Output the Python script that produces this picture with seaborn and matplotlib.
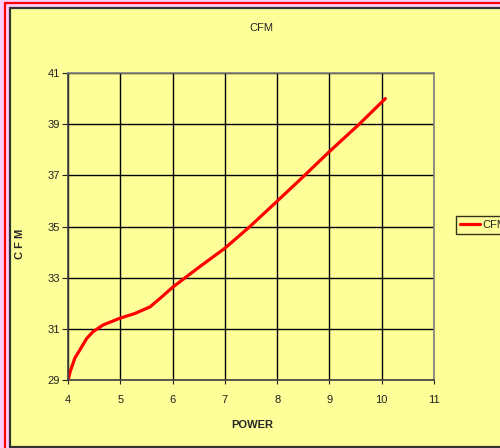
import matplotlib
matplotlib.use('Agg')
import matplotlib.pyplot as plt
import seaborn as sns
from matplotlib.patches import Rectangle

# Data
power = [4.00, 4.05, 4.13, 4.36, 4.48, 4.67, 5.00, 5.28, 5.57, 5.76, 6.01, 6.52, 7.00, 7.48,
         8.00, 8.50, 9.00, 9.57, 10.07]
cfm = [29.00, 29.38, 29.85, 30.63, 30.89, 31.15, 31.42, 31.60, 31.86, 32.19, 32.64, 33.43, 34.15,
       35.00, 35.99, 36.95, 37.93, 39.00, 40.00]
x_ticks = [4, 5, 6, 7, 8, 9, 10, 11]
y_ticks = [29, 31, 33, 35, 37, 39, 41]

YELLOW = '#FFFF99'
PINK = '#FFCCFF'

sns.set_style('white')
plt.rcParams['font.family'] = ['Liberation Sans Narrow', 'Liberation Sans', 'DejaVu Sans']

W, H = 500, 448
fig = plt.figure(figsize=(W / 100, H / 100), dpi=100, facecolor=PINK)

# outer red frame and yellow chart area
fig.add_artist(Rectangle((4.5 / W, -0.1), 1.2, 1 - 3.5 / H + 0.1, transform=fig.transFigure,
                         fill=False, edgecolor='#FF0000', lw=1.6, zorder=-2))
fig.add_artist(Rectangle((9.5 / W, 1.5 / H), 1.2, (H - 8.5 - 1.5) / H, transform=fig.transFigure,
                         facecolor=YELLOW, edgecolor='#333333', lw=1.6, zorder=-1))

ax = fig.add_axes([68 / W, 1 - 380 / H, (434 - 68) / W, (380 - 73) / H])
ax.set_facecolor(YELLOW)

sns.lineplot(x=power, y=cfm, ax=ax, color='#FF0000', lw=2.3, label='CFM', sort=False)

ax.set_xlim(4, 11)
ax.set_ylim(29, 41)
ax.set_xticks(x_ticks)
ax.set_yticks(y_ticks)
ax.grid(True, color='black', lw=1)
for s in ax.spines.values():
    s.set_color('#808080')
    s.set_linewidth(1.2)
ax.spines['left'].set_color('#404040')
ax.spines['bottom'].set_color('#404040')
ax.tick_params(axis='x', direction='out', length=3, pad=8, labelsize=8, colors='#202020', bottom=True)
ax.tick_params(axis='y', direction='out', length=4, pad=2, labelsize=8, colors='#202020', left=True)
ax.set_xlabel('')
ax.set_ylabel('')

leg = ax.legend(loc='center left', bbox_to_anchor=(1.06, 0.505), fontsize=8, frameon=True,
                fancybox=False, handlelength=1.8, handletextpad=0.2, borderpad=0.35,
                borderaxespad=0)
leg.get_frame().set_edgecolor('black')
leg.get_frame().set_facecolor(YELLOW)
leg.get_frame().set_linewidth(1)

fig.text(261 / W, 1 - 28 / H, 'CFM', ha='center', va='center', fontsize=8)
fig.text(252 / W, 1 - 425 / H, 'POWER', ha='center', va='center', fontsize=8, fontweight='bold')
fig.text(20 / W, 1 - 244 / H, 'C F M', ha='center', va='center', fontsize=8, fontweight='bold',
         rotation=90)

fig.savefig('out.png', dpi=100, facecolor=PINK)
